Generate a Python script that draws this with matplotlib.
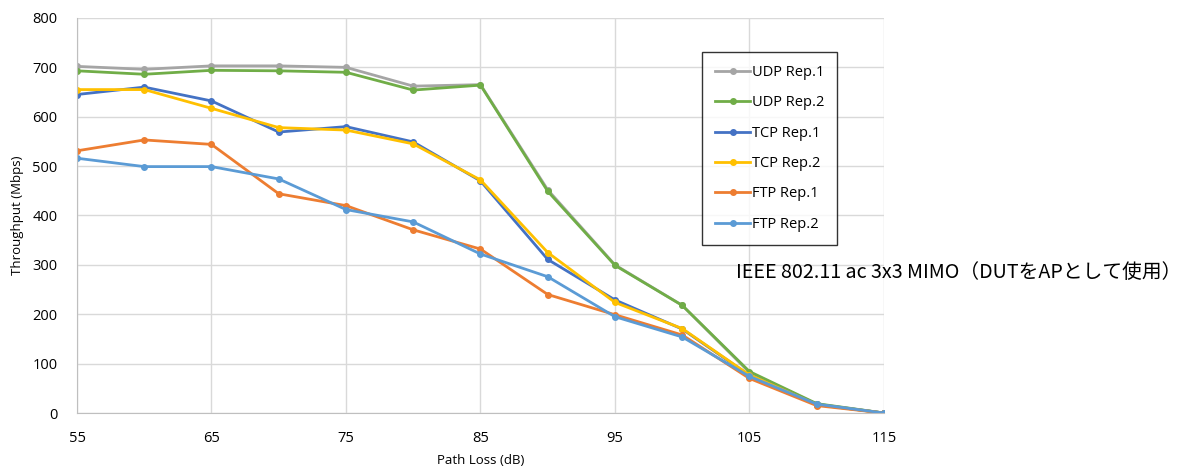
import matplotlib.pyplot as plt

plt.rcParams['font.family'] = ['Open Sans', 'DejaVu Sans']

# Path Loss (dB)
path_loss = [55, 60, 65, 70, 75, 80, 85, 90, 95, 100, 105, 110, 115]

# Throughput (Mbps)
udp_rep1 = [702, 696, 703, 703, 700, 662, 665, 452, 300, 218, 82, 18, 0]
udp_rep2 = [693, 686, 694, 693, 690, 654, 664, 449, 299, 218, 84, 19, 0]
tcp_rep1 = [645, 660, 632, 569, 580, 549, 470, 311, 229, 170, 76, 17, 0]
tcp_rep2 = [655, 655, 617, 578, 573, 545, 472, 325, 224, 171, 77, 17, 0]
ftp_rep1 = [531, 553, 544, 444, 420, 371, 332, 240, 199, 158, 70, 15, 0]
ftp_rep2 = [516, 499, 499, 474, 412, 387, 322, 276, 195, 154, 74, 18, 0]

series = [
    ("UDP Rep.1", udp_rep1, "#A5A5A5"),
    ("UDP Rep.2", udp_rep2, "#70AD47"),
    ("TCP Rep.1", tcp_rep1, "#4472C4"),
    ("TCP Rep.2", tcp_rep2, "#FFC000"),
    ("FTP Rep.1", ftp_rep1, "#ED7D31"),
    ("FTP Rep.2", ftp_rep2, "#5B9BD5"),
]

fig = plt.figure(figsize=(11.81, 4.67), dpi=100)
ax = fig.add_axes([0.0652, 0.1156, 0.6833, 0.8459])

for name, vals, col in series:
    ax.plot(path_loss, vals, color=col, lw=2, marker='o', ms=4, label=name)

ax.set_xlim(55, 115)
ax.set_ylim(0, 800)
ax.set_xticks(range(55, 116, 10))
ax.set_yticks(range(0, 801, 100))
ax.grid(True, color='#D9D9D9', lw=1)
ax.set_axisbelow(True)
for s in ['top', 'right']:
    ax.spines[s].set_visible(False)
for s in ['left', 'bottom']:
    ax.spines[s].set_color('#BFBFBF')
ax.tick_params(length=0, labelsize=10.5, colors='#000000')
ax.tick_params(axis='x', pad=13)
ax.tick_params(axis='y', pad=14)
ax.set_xlabel("Path Loss (dB)", fontsize=9.5, labelpad=6)
ax.set_ylabel("Throughput (Mbps)", fontsize=9.5, labelpad=6)

# legend box outside the plot area, to the right
leg = fig.legend(loc='upper left', bbox_to_anchor=(702 / 1181, 1 - 52 / 467),
                 fontsize=10.5, frameon=True, fancybox=False, edgecolor='#000000',
                 labelspacing=1.05, handlelength=2.4, handletextpad=0.1,
                 borderpad=0.9, borderaxespad=0)
leg.get_frame().set_linewidth(1)

fig.text(736 / 1181, 1 - 272 / 467, "IEEE 802.11 ac 3x3 MIMO（DUTをAPとして使用）",
         fontsize=14.2, va='center', ha='left',
         family=['Noto Sans CJK JP', 'DejaVu Sans'])

fig.savefig("out.png", dpi=100)
